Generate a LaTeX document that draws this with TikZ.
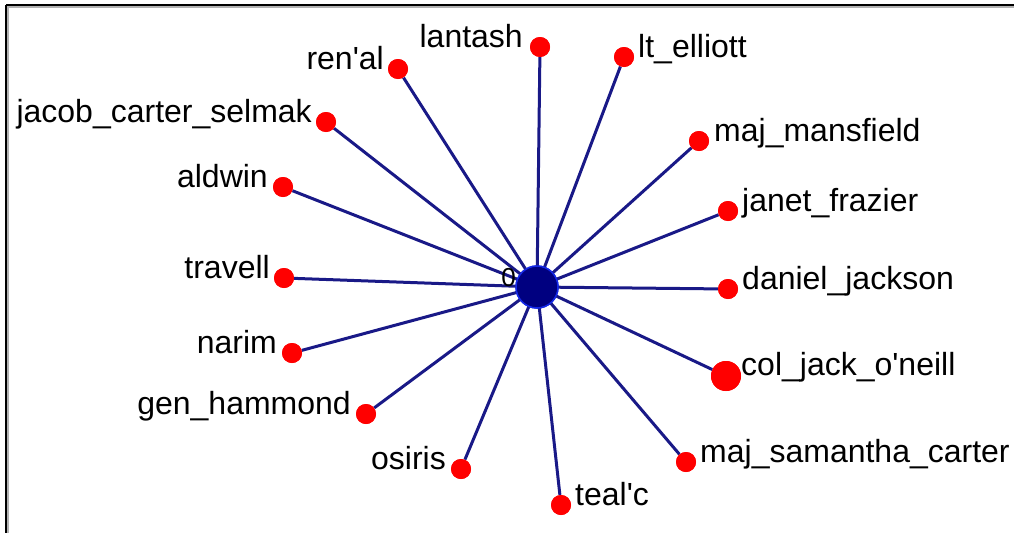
\documentclass[tikz,border=0pt]{standalone}
\usepackage{fontspec}
\setmainfont{Liberation Sans}
\definecolor{edgeblue}{RGB}{25,25,135}
\definecolor{hubfill}{RGB}{0,0,128}
\definecolor{hubline}{RGB}{20,40,230}
\begin{document}
\begin{tikzpicture}[x=1pt,y=-1pt,
  leaf/.style={circle,fill=red,inner sep=0pt,minimum size=20pt},
  bigleaf/.style={circle,fill=red,inner sep=0pt,minimum size=30pt},
  hub/.style={circle,fill=hubfill,draw=hubline,line width=1.5pt,inner sep=0pt,minimum size=42pt},
  lbl/.style={font=\fontsize{32}{38}\selectfont,inner sep=0pt,text=black},
  lleft/.style={lbl,anchor=base east},
  lright/.style={lbl,anchor=base west},
  edge/.style={draw=edgeblue,line width=3pt}]
\useasboundingbox (0,0) rectangle (1014,533);
\fill[gray!60] (7,6) rectangle (1014,8);
\fill[gray!60] (7,6) rectangle (9,533);
\draw[line width=2pt] (6,5) -- (1014,5);
\draw[line width=2pt] (6,5) -- (6,533);
% leaves
\node[leaf] (lantash) at (540,47) {};
\node[leaf] (renal) at (398,69) {};
\node[leaf] (ltelliott) at (624,57) {};
\node[leaf] (jacob) at (326,122) {};
\node[leaf] (mansfield) at (699,141) {};
\node[leaf] (aldwin) at (283,187) {};
\node[leaf] (janet) at (728,211) {};
\node[leaf] (travell) at (284,278) {};
\node[leaf] (daniel) at (728,289) {};
\node[leaf] (narim) at (292,353) {};
\node[bigleaf] (jack) at (726,376) {};
\node[leaf] (hammond) at (366,414) {};
\node[leaf] (samantha) at (686,462) {};
\node[leaf] (osiris) at (461,469) {};
\node[leaf] (tealc) at (561,505) {};
\node[hub] (hub) at (537,287) {};
% edges
\foreach \n in {lantash,renal,ltelliott,jacob,mansfield,aldwin,janet,travell,daniel,narim,jack,hammond,samantha,osiris,tealc}
  \path[edge] (hub.center) -- (\n);
% redraw nodes on top of the edges
\foreach \n in {lantash,renal,ltelliott,jacob,mansfield,aldwin,janet,travell,daniel,narim,hammond,samantha,osiris,tealc}
  \node[leaf] at (\n) {};
\node[bigleaf] at (jack) {};
\node[hub] at (hub) {};
% labels
\node[lleft] (tlantash) at (523,47) {lantash};
\node[lleft] (trenal) at (384,69) {ren\textquotesingle al};
\node[lright] (tltelliott) at (638,57) {lt\_elliott};
\node[lleft] (tjacob) at (312,122) {jacob\_carter\_selmak};
\node[lright] (tmansfield) at (714,141) {maj\_mansfield};
\node[lleft] (taldwin) at (268,187) {aldwin};
\node[lright] (tjanet) at (742,211) {janet\_frazier};
\node[lleft] (ttravell) at (270,278) {travell};
\node[lright] (tdaniel) at (742,289) {daniel\_jackson};
\node[lleft] (tnarim) at (277,353) {narim};
\node[lright] (tjack) at (741,375) {col\_jack\_o\textquotesingle neill};
\node[lleft] (thammond) at (351,414) {gen\_hammond};
\node[lright] (tsamantha) at (700,462) {maj\_samantha\_carter};
\node[lleft] (tosiris) at (446,469) {osiris};
\node[lright] (ttealc) at (575,505) {teal\textquotesingle c};
\node[lbl,anchor=base east,font=\fontsize{26}{30}\selectfont] (zero) at (516,286) {0};
\end{tikzpicture}
\end{document}
